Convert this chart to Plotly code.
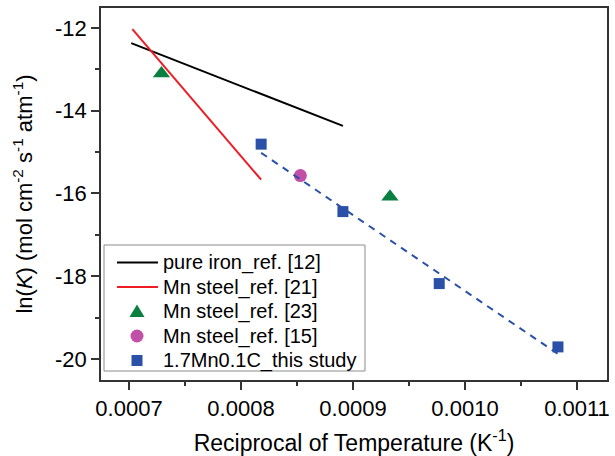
import plotly.graph_objects as go

# ---- data ----
iron_x = [0.000702, 0.000891]
iron_y = [-12.37, -14.37]
mn21_x = [0.000703, 0.000818]
mn21_y = [-12.03, -15.67]
mn23_x = [0.000729, 0.000933]
mn23_y = [-13.10, -16.08]
mn15_x = [0.000853]
mn15_y = [-15.57]
study_x = [0.000818, 0.000891, 0.000977, 0.001083]
study_y = [-14.81, -16.44, -18.18, -19.71]
fit_x = [0.000818, 0.001083]
fit_y = [-15.02, -19.88]

x_ticks = [0.0007, 0.0008, 0.0009, 0.0010, 0.0011]
x_labels = ["0.0007", "0.0008", "0.0009", "0.0010", "0.0011"]
y_ticks = [-12, -14, -16, -18, -20]
y_labels = ["-12", "-14", "-16", "-18", "-20"]

legend_names = ["pure iron_ref. [12]", "Mn steel_ref. [21]", "Mn steel_ref. [23]",
                "Mn steel_ref. [15]", "1.7Mn0.1C_this study"]

FONT = "Liberation Sans, Arial, sans-serif"
BLACK = "black"
RED = "#f01c24"
GREEN = "#0a8040"
MAGENTA = "#c050a8"
BLUE = "#2a50a8"

W, H = 615, 456
ML, MR, MT, MB = 101, 8, 8, 76
PW, PH = W - ML - MR, H - MT - MB


def px(xp):
    return (xp - ML) / PW


def py(yp):
    return (H - MB - yp) / PH


fig = go.Figure()
fig.add_trace(go.Scatter(x=iron_x, y=iron_y, mode="lines",
                         line=dict(color=BLACK, width=2), name=legend_names[0]))
fig.add_trace(go.Scatter(x=mn21_x, y=mn21_y, mode="lines",
                         line=dict(color=RED, width=2), name=legend_names[1]))
fig.add_trace(go.Scatter(x=mn23_x, y=mn23_y, mode="markers",
                         marker=dict(symbol="triangle-up", size=15, color=GREEN),
                         name=legend_names[2]))
fig.add_trace(go.Scatter(x=mn15_x, y=mn15_y, mode="markers",
                         marker=dict(symbol="circle", size=13, color=MAGENTA),
                         name=legend_names[3]))
fig.add_trace(go.Scatter(x=fit_x, y=fit_y, mode="lines",
                         line=dict(color=BLUE, width=2, dash="7px,6px"),
                         name="fit", hoverinfo="skip"))
fig.add_trace(go.Scatter(x=study_x, y=study_y, mode="markers",
                         marker=dict(symbol="square", size=11, color=BLUE),
                         name=legend_names[4]))

axis_common = dict(
    showline=True, linecolor="#333333", linewidth=1.5, mirror=True,
    ticks="outside", ticklen=8, tickwidth=1.5, tickcolor="#333333",
    showgrid=False, zeroline=False,
    tickfont=dict(family=FONT, size=22, color="black"),
)

fig.update_xaxes(
    range=[0.000675, 0.0011268],
    tickvals=x_ticks, ticktext=x_labels,
    minor=dict(ticks="outside", ticklen=4, tickwidth=1.5, tickcolor="#333333",
               tick0=0.00065, dtick=0.0001, showgrid=False),
    title=dict(text="Reciprocal of Temperature (K<sup>-1</sup>)",
               font=dict(family=FONT, size=23, color="black"), standoff=29),
    **axis_common,
)
fig.update_yaxes(
    range=[-20.51, -11.52],
    tickvals=y_ticks, ticktext=y_labels,
    minor=dict(ticks="outside", ticklen=4, tickwidth=1.5, tickcolor="#333333",
               tick0=-13, dtick=2, showgrid=False),
    title=dict(text="ln(<i>K</i>) (mol cm<sup>-2</sup> s<sup>-1</sup> atm<sup>-1</sup>)",
               font=dict(family=FONT, size=22, color="black"), standoff=16),
    **axis_common,
)

# ---- legend box (drawn to match the reference's compact spacing) ----
shapes = [dict(type="rect", xref="paper", yref="paper",
               x0=px(104), x1=px(365), y0=py(371), y1=py(245),
               line=dict(color="#8c8c8c", width=1), fillcolor="white", layer="above")]
annotations = []
row_y = [262.5, 287, 311.5, 336, 360.5]
sym_cx = 137
for i, name in enumerate(legend_names):
    ry = row_y[i]
    annotations.append(dict(xref="paper", yref="paper", x=px(161), y=py(ry),
                            xanchor="left", yanchor="middle", showarrow=False,
                            text=name, font=dict(family=FONT, size=20, color="black")))
shapes.append(dict(type="line", xref="paper", yref="paper",
                   x0=px(117), x1=px(158), y0=py(row_y[0]), y1=py(row_y[0]),
                   line=dict(color=BLACK, width=2), layer="above"))
shapes.append(dict(type="line", xref="paper", yref="paper",
                   x0=px(117), x1=px(158), y0=py(row_y[1]), y1=py(row_y[1]),
                   line=dict(color=RED, width=2), layer="above"))
ty = row_y[2]
shapes.append(dict(type="path", xref="paper", yref="paper",
                   path="M {:.5f} {:.5f} L {:.5f} {:.5f} L {:.5f} {:.5f} Z".format(
                       px(sym_cx - 7.5), py(ty + 5.5), px(sym_cx + 7.5), py(ty + 5.5),
                       px(sym_cx), py(ty - 7)),
                   fillcolor=GREEN, line=dict(color=GREEN, width=0), layer="above"))
cy = row_y[3]
shapes.append(dict(type="circle", xref="paper", yref="paper",
                   x0=px(sym_cx - 6.5), x1=px(sym_cx + 6.5), y0=py(cy + 6.5), y1=py(cy - 6.5),
                   fillcolor=MAGENTA, line=dict(color=MAGENTA, width=0), layer="above"))
sy = row_y[4]
shapes.append(dict(type="rect", xref="paper", yref="paper",
                   x0=px(sym_cx - 5.5), x1=px(sym_cx + 5.5), y0=py(sy + 5.5), y1=py(sy - 5.5),
                   fillcolor=BLUE, line=dict(color=BLUE, width=0), layer="above"))

fig.update_layout(
    width=W, height=H,
    margin=dict(l=ML, r=MR, t=MT, b=MB, autoexpand=False),
    paper_bgcolor="white", plot_bgcolor="white",
    font=dict(family=FONT, color="black"),
    showlegend=False,
    hovermode=False,
    shapes=shapes,
    annotations=annotations,
)

fig.write_html("out.html", config={"displayModeBar": False},
               post_script="document.body.style.margin='0';")
